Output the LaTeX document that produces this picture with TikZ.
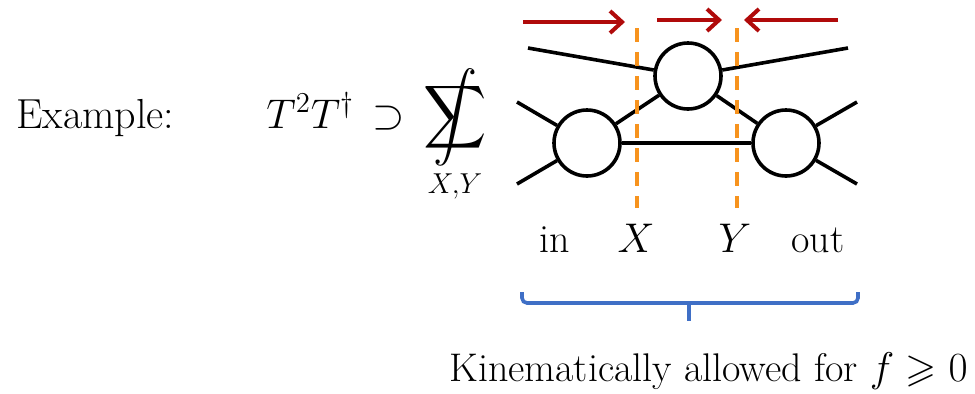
\documentclass[tikz,border=0pt]{standalone}
\usepackage{amsmath,amssymb}
\usepackage{tikz}
\usetikzlibrary{arrows.meta,positioning}
\definecolor{kinred}{HTML}{B00A0A}
\definecolor{kinorange}{HTML}{F7931E}
\definecolor{kinblue}{HTML}{3F6FC6}
\newcommand\kinsum{\mathop{\ooalign{$\displaystyle\sum$\cr\hidewidth$\displaystyle\int$\hidewidth\cr}}\limits}
\tikzset{%
  kinblob/.style={%
    circle,
    draw=black,
    fill=white,
    line width=1.8pt,
    minimum size=33pt,
    inner sep=0pt
  },
  kinleg/.style={line width=1.8pt,draw=black},
  kincut/.style={line width=1.6pt,draw=kinorange,dash pattern=on 7pt off 5pt},
  kinflow/.style={-{Straight Barb[length=6pt,width=11pt,line width=2pt]},line width=2pt,draw=kinred},
  kinbrace/.style={line width=1.8pt,draw=kinblue,rounded corners=2.5pt},
  kintext/.style={font=\fontsize{20}{24}\selectfont,inner sep=0pt},
  kinmath/.style={font=\fontsize{22}{26}\selectfont,inner sep=0pt}
}
\begin{document}
\begin{tikzpicture}[x=0.5pt,y=-0.5pt]
    \useasboundingbox (0,0) rectangle (975,393);

    % left hand side
    \node[kintext,font=\fontsize{21}{25}\selectfont,anchor=base west] (example) at (16,128) {Example:};
    \node[kinmath,anchor=base west] (formula) at (266,128) {$T^2T^\dagger\,\supset\,\kinsum_{X,Y}$};

    % the three blobs
    \node[kinblob] (blobT) at (688,76) {};
    \node[kinblob] (blobL) at (587,143) {};
    \node[kinblob] (blobR) at (786,143) {};

    % external legs
    \coordinate (inA) at (528,48);
    \coordinate (inB) at (517,102);
    \coordinate (inC) at (517,184);
    \coordinate (outA) at (848,48);
    \coordinate (outB) at (857,102);
    \coordinate (outC) at (857,184);
    \draw[kinleg] (inA) -- (blobT);
    \draw[kinleg] (outA) -- (blobT);
    \draw[kinleg] (inB) -- (blobL);
    \draw[kinleg] (inC) -- (blobL);
    \draw[kinleg] (outB) -- (blobR);
    \draw[kinleg] (outC) -- (blobR);

    % internal lines
    \draw[kinleg] (blobL) -- (blobT);
    \draw[kinleg] (blobT) -- (blobR);
    \draw[kinleg] (blobL) -- (blobR);

    % cuts X and Y
    \coordinate (cutXtop) at (637,28);
    \coordinate (cutXbot) at (637,208);
    \coordinate (cutYtop) at (737,28);
    \coordinate (cutYbot) at (737,208);
    \draw[kincut] (cutXtop) -- (cutXbot);
    \draw[kincut] (cutYtop) -- (cutYbot);

    % flow arrows
    \coordinate (flowA) at (523,22);
    \coordinate (flowB) at (625,22);
    \coordinate (flowC) at (657,20);
    \coordinate (flowD) at (722,20);
    \coordinate (flowE) at (838,20);
    \coordinate (flowF) at (744,20);
    \draw[kinflow] (flowA) -- (flowB);
    \draw[kinflow] (flowC) -- (flowD);
    \draw[kinflow] (flowE) -- (flowF);

    % channel labels
    \node[kintext,anchor=base] (labin) at (555,252) {in};
    \node[kintext,anchor=base] (labX) at (636,252) {$X$};
    \node[kintext,anchor=base] (labY) at (735,252) {$Y$};
    \node[kintext,anchor=base] (labout) at (818,252) {out};

    % brace
    \coordinate (braceL) at (522,292);
    \coordinate (braceR) at (858,292);
    \coordinate (braceM) at (689,303);
    \coordinate (braceTip) at (689,321);
    \draw[kinbrace] (braceL) |- (braceM) -| (braceR);
    \draw[kinbrace,rounded corners=0pt] (braceM) -- (braceTip);

    \node[kintext,anchor=base east] (allowed) at (968,381) {Kinematically allowed for $f\geqslant0$};
  \end{tikzpicture}
\end{document}
